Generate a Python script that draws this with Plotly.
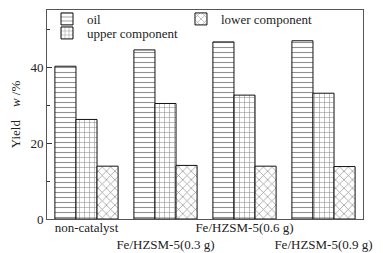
import plotly.graph_objects as go

categories = ["non-catalyst", "Fe/HZSM-5(0.3 g)", "Fe/HZSM-5(0.6 g)", "Fe/HZSM-5(0.9 g)"]
tick_labels = ["non-catalyst", "<br>Fe/HZSM-5(0.3 g)", "Fe/HZSM-5(0.6 g)", "<br>Fe/HZSM-5(0.9 g)"]
oil = [40.2, 44.5, 46.6, 46.9]
upper = [26.2, 30.4, 32.6, 33.1]
lower = [13.9, 14.1, 13.9, 13.8]

FONT = "Liberation Serif, Times New Roman, serif"
x = list(range(len(categories)))

fig = go.Figure()
series = [
    ("oil", oil, "-", "legend", 5),
    ("upper component", upper, "+", "legend2", 5),
    ("lower component", lower, "x", "legend3", 6),
]
for name, vals, shape, lg, sz in series:
    fig.add_trace(go.Bar(
        x=x, y=vals, name=name, legend=lg,
        marker=dict(color="white", line=dict(color="#111", width=1),
                    pattern=dict(shape=shape, fgcolor="#222", bgcolor="white",
                                 size=sz, solidity=0.22)),
    ))

leg = dict(xanchor="left", yanchor="middle", font=dict(size=13, family=FONT),
           bgcolor="rgba(0,0,0,0)", borderwidth=0)

fig.update_layout(
    width=375, height=245,
    margin=dict(l=39, r=20, t=2, b=34, autoexpand=False),
    paper_bgcolor="white", plot_bgcolor="white",
    barmode="group", bargap=0.2, bargroupgap=0,
    font=dict(family=FONT, size=13, color="#222"),
    showlegend=True,
    legend=dict(leg, x=0.0, y=0.957),
    legend2=dict(leg, x=0.0, y=0.89),
    legend3=dict(leg, x=0.424, y=0.957),
    xaxis=dict(range=[-0.5, 3.5], tickmode="array", tickvals=x, ticktext=tick_labels,
               tickangle=0, automargin=False, ticklabelstandoff=-4,
               showline=True, linecolor="#555", mirror=True, ticks="", showgrid=False,
               tickfont=dict(size=13, family=FONT)),
    yaxis=dict(range=[0, 55], tickvals=[0, 20, 40], showline=True, linecolor="#555",
               mirror=True, ticks="inside", ticklen=5, tickcolor="#333", showgrid=False,
               zeroline=False, tickfont=dict(size=13, family=FONT), automargin=False,
               minor=dict(tickvals=[10, 30, 50], ticks="inside", ticklen=3, tickcolor="#333"),
               title=dict(text="Yield&nbsp;&nbsp;&nbsp;&nbsp;<i>w</i> /%", standoff=6,
                          font=dict(size=13, family=FONT))),
)

fig.write_html("out.html")
